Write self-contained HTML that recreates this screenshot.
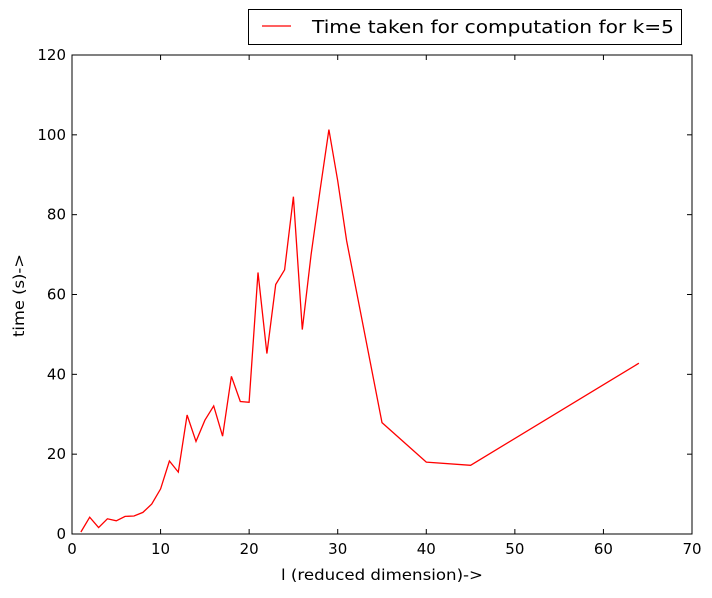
<!DOCTYPE html>
<html><head><meta charset="utf-8"><style>
body{margin:0;background:#fff;}
svg text{font-family:"DejaVu Sans","Liberation Sans",sans-serif;}
</style></head><body>
<svg id="chart" width="712" height="593" xmlns="http://www.w3.org/2000/svg"></svg>
<script>
const xValues=[1,2,3,4,5,6,7,8,9,10,11,12,13,14,15,16,17,18,19,20,21,22,23,24,25,26,27,28,29,30,31,35,40,45,64];
const timeValues=[0.5,4.2,1.6,3.8,3.3,4.4,4.5,5.4,7.5,11.3,18.3,15.5,29.8,23.2,28.5,32.1,24.5,39.5,33.2,33.0,65.5,45.2,62.5,66.2,84.5,51.2,70,86,101.3,88.5,73.5,27.9,18,17.2,42.8];
const xTicks=[0,10,20,30,40,50,60,70];
const yTicks=[0,20,40,60,80,100,120];
const L=72,R=692,T=55,B=534;
const xs=v=>L+(v-0)/70*(R-L);
const ys=v=>B-(v-0)/120*(B-T);
const svg=document.getElementById('chart');
const NS='http://www.w3.org/2000/svg';
function mk(t,a){const e=document.createElementNS(NS,t);for(const k in a)e.setAttribute(k,a[k]);svg.appendChild(e);return e;}
const frame=mk('rect',{x:L,y:T,width:R-L,height:B-T,fill:'none',stroke:'#000','stroke-width':1});


xTicks.forEach(v=>{
  const x=xs(v);
  const t1=mk('line',{x1:x,y1:B,x2:x,y2:B-5,stroke:'#000'});
  
  
  const t2=mk('line',{x1:x,y1:T,x2:x,y2:T+5,stroke:'#000'});
  
  
  const tx=mk('text',{x:x,y:B+20,'text-anchor':'middle','font-size':15});
  tx.textContent=v;
  
  
});
yTicks.forEach(v=>{
  const y=ys(v);
  const t1=mk('line',{x1:L,y1:y,x2:L+5,y2:y,stroke:'#000'});
  
  
  const t2=mk('line',{x1:R,y1:y,x2:R-5,y2:y,stroke:'#000'});
  
  
  const tx=mk('text',{x:L-6,y:y+5,'text-anchor':'end','font-size':15});
  tx.textContent=v;
  
  
});
const pts=xValues.map((v,i)=>xs(v).toFixed(1)+','+ys(timeValues[i]).toFixed(1)).join(' ');
const line=mk('polyline',{points:pts,fill:'none',stroke:'#f00','stroke-width':1.3,'stroke-linejoin':'miter'});


const xt=mk('text',{x:281,y:580,'font-size':15,textLength:202,lengthAdjust:'spacingAndGlyphs'});
xt.textContent='l (reduced dimension)->';


const yt=mk('text',{x:-337,y:24,'font-size':15,textLength:83,lengthAdjust:'spacingAndGlyphs',transform:'rotate(-90)'});
yt.textContent='time (s)->';


const lb=mk('rect',{x:248.5,y:9.5,width:433,height:35,fill:'#fff',stroke:'#000'});


const ll=mk('line',{x1:262,y1:26,x2:291,y2:26,stroke:'#f00','stroke-width':1.3});


const lt=mk('text',{x:312,y:33,'font-size':18,textLength:362,lengthAdjust:'spacingAndGlyphs'});
lt.textContent='Time taken for computation for k=5';


</script>
</body></html>
